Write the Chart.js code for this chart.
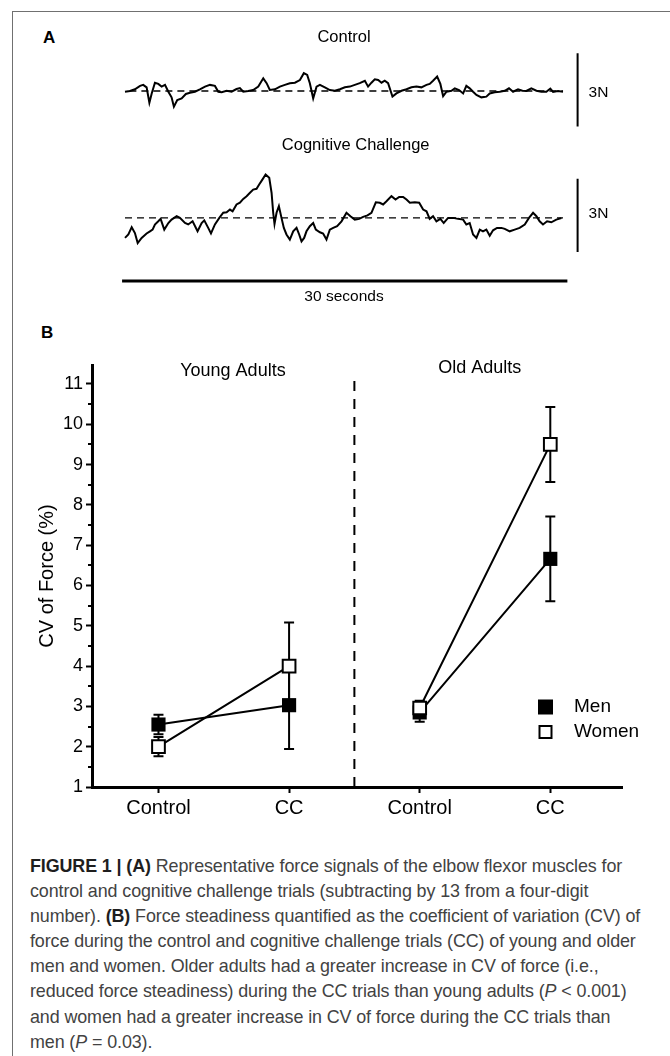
<!DOCTYPE html>
<html>
<head>
<meta charset="utf-8">
<script src="https://cdn.jsdelivr.net/npm/chart.js@4.4.1/dist/chart.umd.min.js"></script>
<style>
  html, body { margin: 0; padding: 0; background: #fff; }
  body { width: 670px; height: 1056px; position: relative; overflow: hidden; font-family: "Liberation Sans", Arial, sans-serif; }
  .frame { position: absolute; left: 12px; top: 11px; right: -2px; bottom: -2px; border-top: 1.5px solid #707070; border-left: 1.5px solid #707070; }
  .letter { position: absolute; font-weight: bold; font-size: 17px; color: #000; line-height: 1; }
  canvas { position: absolute; }
  #caption { position: absolute; left: 30px; top: 854px; font-size: 17.9px; line-height: 25.1px; color: #424242; white-space: nowrap; letter-spacing: -0.1px; }
  #caption b { color: #1e1e1e; }
</style>
</head>
<body>
<div class="frame"></div>
<div class="letter" style="left:43px; top:29px;">A</div>
<div class="letter" style="left:41px; top:324px;">B</div>
<canvas id="forceTraces" width="520" height="300" style="left:100px; top:20px; width:520px; height:300px;"></canvas>
<canvas id="cvChart" width="640" height="500" style="left:20px; top:340px; width:640px; height:500px;"></canvas>
<div id="caption">
  <div><b>FIGURE 1 | (A)</b> Representative force signals of the elbow flexor muscles for</div>
  <div>control and cognitive challenge trials (subtracting by 13 from a four-digit</div>
  <div>number). <b>(B)</b> Force steadiness quantified as the coefficient of variation (CV) of</div>
  <div>force during the control and cognitive challenge trials (CC) of young and older</div>
  <div>men and women. Older adults had a greater increase in CV of force (i.e.,</div>
  <div>reduced force steadiness) during the CC trials than young adults (<i>P</i> &lt; 0.001)</div>
  <div>and women had a greater increase in CV of force during the CC trials than</div>
  <div>men (<i>P</i> = 0.03).</div>
</div>
<script>
// ---- panel A: representative force signals (seconds, N relative to target) ----
const ctrlTime = [0.00,0.34,0.68,1.03,1.25,1.48,1.67,1.83,2.05,2.28,2.51,2.74,2.97,3.19,3.35,3.58,3.88,4.17,4.45,4.79,5.13,5.48,5.82,6.16,6.39,6.62,6.96,7.30,7.64,7.87,8.10,8.44,8.78,9.13,9.47,9.70,9.92,10.27,10.61,10.95,11.29,11.64,11.98,12.25,12.48,12.66,12.89,13.12,13.35,13.69,14.03,14.37,14.72,15.06,15.40,15.74,16.08,16.43,16.65,16.88,17.11,17.34,17.57,17.79,18.02,18.32,18.59,18.94,19.28,19.62,19.96,20.30,20.65,20.87,21.10,21.38,21.60,21.79,22.02,22.36,22.59,22.88,23.16,23.38,23.61,23.84,24.07,24.41,24.75,24.98,25.32,25.67,26.01,26.30,26.58,26.92,27.22,27.49,27.83,28.18,28.52,28.86,29.13,29.32,29.66,30.00];
const ctrlForce = [-0.03,0.00,0.07,0.21,0.25,0.15,-0.48,-0.10,0.34,0.29,0.18,0.25,-0.03,-0.26,-0.64,-0.37,-0.30,-0.12,-0.07,-0.03,0.07,0.18,0.25,0.21,-0.03,-0.05,0.01,-0.03,0.08,0.12,-0.03,0.00,0.04,0.18,0.52,0.32,0.04,0.07,0.18,0.25,0.32,0.34,0.45,0.73,0.66,0.32,-0.30,0.18,0.25,0.15,0.04,0.01,0.07,0.15,0.18,0.25,0.32,0.42,0.18,0.34,0.48,0.45,0.34,0.42,0.32,-0.23,-0.10,0.01,0.07,0.15,0.18,0.15,0.25,0.29,0.42,0.59,0.29,-0.21,-0.03,0.01,0.11,0.04,-0.10,0.21,0.11,-0.03,-0.16,-0.26,-0.23,-0.10,-0.05,-0.03,0.01,0.11,-0.03,0.07,0.01,0.00,0.11,0.01,-0.03,-0.03,0.10,-0.04,0.00,-0.03];
const ccTime = [0.00,0.23,0.46,0.68,0.87,1.14,1.48,1.71,1.89,2.05,2.28,2.44,2.69,2.97,3.19,3.54,3.76,4.11,4.33,4.63,4.97,5.25,5.43,5.70,5.89,6.16,6.46,6.73,6.96,7.19,7.37,7.64,7.87,8.10,8.33,8.56,8.78,9.01,9.19,9.42,9.63,9.88,10.04,10.15,10.24,10.38,10.54,10.72,10.88,11.06,11.29,11.52,11.75,11.93,12.09,12.27,12.43,12.66,12.89,13.07,13.35,13.57,13.80,14.03,14.26,14.53,14.83,15.17,15.44,15.74,16.04,16.31,16.61,16.88,17.18,17.45,17.68,17.91,18.25,18.53,18.78,19.05,19.28,19.51,19.85,20.15,20.42,20.65,20.87,21.10,21.33,21.60,21.83,22.13,22.47,22.81,23.16,23.38,23.61,23.84,24.07,24.30,24.52,24.75,24.98,25.21,25.48,25.78,26.01,26.35,26.69,27.03,27.38,27.67,27.95,28.18,28.40,28.63,28.91,29.20,29.54,29.89];
const ccForce = [-0.82,-0.68,-0.38,-0.62,-1.03,-0.82,-0.64,-0.55,-0.48,-0.27,-0.14,-0.04,-0.48,-0.21,-0.07,0.07,0.00,-0.21,-0.27,-0.14,-0.55,-0.21,-0.10,-0.41,-0.64,-0.27,0.00,0.21,0.23,0.34,0.27,0.55,0.62,0.78,0.89,1.03,1.16,1.19,1.37,1.58,1.78,1.64,1.03,0.21,-0.25,0.21,0.48,0.00,-0.41,-0.68,-0.89,-0.55,-0.41,-0.68,-0.96,-0.82,-0.55,-0.34,-0.21,-0.48,-0.59,-0.64,-0.89,-0.48,-0.41,-0.34,-0.14,0.21,0.07,-0.07,-0.04,0.04,0.10,0.21,0.64,0.62,0.55,0.68,0.89,0.75,0.86,0.86,0.75,0.62,0.64,0.62,0.34,0.27,-0.04,0.07,-0.14,-0.04,-0.21,0.00,0.00,-0.04,-0.07,-0.27,-0.21,-0.68,-0.82,-0.48,-0.55,-0.48,-0.73,-0.51,-0.41,-0.41,-0.45,-0.55,-0.48,-0.41,-0.27,0.00,0.21,0.07,-0.14,-0.27,-0.14,-0.18,-0.07,-0.01];
const traceTitles = ['Control', 'Cognitive Challenge'];
const scaleBarN = 3;
const durationSec = 30;

// ---- panel B: CV of force (%), mean and SE ----
const xLabels = ['Control', 'CC', 'Control', 'CC'];
const groupLabels = ['Young Adults', 'Old Adults'];
const menMean = [2.55, 3.03, 2.85, 6.66];
const menSE = [0.24, 1.09, 0.23, 1.05];
const womenMean = [2.00, 4.00, 2.96, 9.50];
const womenSE = [0.24, 1.08, 0.18, 0.93];
const yTicks = [1, 2, 3, 4, 5, 6, 7, 8, 9, 10, 11];

Chart.defaults.font.family = '"Liberation Sans", Arial, sans-serif';
Chart.defaults.color = '#000';

function pts(xs, ys, off) {
  return xs.map((t, i) => ({ x: t, y: ys[i] + (off || 0) }));
}

// vertical offset of the second trace and the time bar (layout only)
const ccOffset = -5.2;
const barY = -7.79;

const textLabels = {
  id: 'textLabels',
  afterDatasetsDraw(chart, args, opts) {
    const { ctx, scales: { x, y } } = chart;
    ctx.save();
    ctx.fillStyle = '#000';
    ctx.textBaseline = 'middle';
    opts.items.forEach(it => {
      ctx.font = it.font;
      ctx.textAlign = it.align || 'center';
      ctx.fillText(it.text, x.getPixelForValue(it.x), y.getPixelForValue(it.y));
    });
    ctx.restore();
  }
};

const lineStyle = { borderColor: '#000', pointRadius: 0, showLine: true, tension: 0, fill: false };

new Chart(document.getElementById('forceTraces'), {
  type: 'scatter',
  data: {
    datasets: [
      { ...lineStyle, data: pts(ctrlTime, ctrlForce), borderWidth: 2 },
      { ...lineStyle, data: [{ x: 0.3, y: 0 }, { x: durationSec, y: 0 }], borderWidth: 1.3, borderDash: [7, 5] },
      { ...lineStyle, data: pts(ccTime, ccForce, ccOffset), borderWidth: 2 },
      { ...lineStyle, data: [{ x: 0, y: ccOffset }, { x: durationSec, y: ccOffset }], borderWidth: 1.3, borderDash: [7, 5] },
      { ...lineStyle, data: [{ x: 31, y: 1.55 }, { x: 31, y: 1.55 - scaleBarN }], borderWidth: 2 },
      { ...lineStyle, data: [{ x: 31, y: ccOffset + 1.6 }, { x: 31, y: ccOffset + 1.6 - scaleBarN }], borderWidth: 2 },
      { ...lineStyle, data: [{ x: -0.2, y: barY }, { x: durationSec + 0.3, y: barY }], borderWidth: 3 }
    ]
  },
  options: {
    responsive: false,
    animation: false,
    layout: { padding: 0 },
    scales: {
      x: { type: 'linear', display: false, min: -1.712, max: 33.904 },
      y: { type: 'linear', display: false, min: -9.385, max: 2.91 }
    },
    plugins: {
      legend: { display: false },
      tooltip: { enabled: false },
      textLabels: {
        items: [
          { text: traceTitles[0], x: 15.0, y: 2.21, font: '16.5px "Liberation Sans", Arial' },
          { text: traceTitles[1], x: 15.8, y: -2.25, font: '16.5px "Liberation Sans", Arial' },
          { text: scaleBarN + 'N', x: 31.75, y: -0.08, font: '15.5px "Liberation Sans", Arial', align: 'left' },
          { text: scaleBarN + 'N', x: 31.75, y: ccOffset + 0.16, font: '15.5px "Liberation Sans", Arial', align: 'left' },
          { text: durationSec + ' seconds', x: 15.0, y: -8.44, font: '15.5px "Liberation Sans", Arial' }
        ]
      }
    }
  },
  plugins: [textLabels]
});

// ---- panel B ----
const xPos = xLabels.map((_, i) => i);
function withGap(means) {
  return [
    { x: xPos[0], y: means[0] }, { x: xPos[1], y: means[1] },
    { x: 1.5, y: null },
    { x: xPos[2], y: means[2] }, { x: xPos[3], y: means[3] }
  ];
}

const cvExtras = {
  id: 'cvExtras',
  beforeDatasetsDraw(chart) {
    const { ctx, scales: { x, y } } = chart;
    ctx.save();
    ctx.strokeStyle = '#000';
    ctx.lineWidth = 2;
    [[menMean, menSE], [womenMean, womenSE]].forEach(([m, se]) => {
      m.forEach((v, i) => {
        const px = x.getPixelForValue(xPos[i]);
        const top = y.getPixelForValue(v + se[i]);
        const bot = y.getPixelForValue(v - se[i]);
        ctx.beginPath();
        ctx.moveTo(px, top); ctx.lineTo(px, bot);
        ctx.moveTo(px - 5, top); ctx.lineTo(px + 5, top);
        ctx.moveTo(px - 5, bot); ctx.lineTo(px + 5, bot);
        ctx.stroke();
      });
    });
    ctx.restore();
  },
  afterDraw(chart) {
    const { ctx, chartArea, scales: { x, y } } = chart;
    ctx.save();
    // minor ticks on y axis
    ctx.strokeStyle = '#000';
    ctx.lineWidth = 2;
    for (let i = 0; i < yTicks.length - 1; i++) {
      const py = Math.round(y.getPixelForValue((yTicks[i] + yTicks[i + 1]) / 2));
      ctx.beginPath();
      ctx.moveTo(chartArea.left - 4, py); ctx.lineTo(chartArea.left, py);
      ctx.stroke();
    }
    // group titles
    ctx.fillStyle = '#000';
    ctx.font = '18px "Liberation Sans", Arial';
    ctx.textAlign = 'center';
    ctx.textBaseline = 'middle';
    ctx.fillText(groupLabels[0], x.getPixelForValue(0.57), y.getPixelForValue(11.33));
    ctx.fillText(groupLabels[1], x.getPixelForValue(2.46), y.getPixelForValue(11.39));
    // legend
    const sets = chart.data.datasets.filter(d => d.label);
    const order = ['Men', 'Women'];
    order.forEach((lab, k) => {
      const ds = sets.find(d => d.label === lab);
      const cx = chartArea.right - 76.5;
      const cy = chartArea.bottom - 80 + k * 25;
      if (ds.pointBackgroundColor === '#000') {
        ctx.fillStyle = '#000';
        ctx.fillRect(cx - 7.5, cy - 7.5, 15, 15);
      } else {
        ctx.fillStyle = '#fff';
        ctx.fillRect(cx - 7, cy - 7, 14, 14);
        ctx.strokeStyle = '#000';
        ctx.lineWidth = 2;
        ctx.strokeRect(cx - 6, cy - 6, 12, 12);
      }
      ctx.fillStyle = '#000';
      ctx.font = '19px "Liberation Sans", Arial';
      ctx.textAlign = 'left';
      ctx.fillText(lab, chartArea.right - 48, cy);
    });
    ctx.restore();
  }
};

new Chart(document.getElementById('cvChart'), {
  type: 'scatter',
  data: {
    datasets: [
      {
        label: 'Women', data: withGap(womenMean), showLine: true, spanGaps: false,
        borderColor: '#000', borderWidth: 2, tension: 0,
        pointStyle: 'rect', pointRadius: 9, pointHoverRadius: 9,
        pointBackgroundColor: '#fff', pointBorderColor: '#000', pointBorderWidth: 2
      },
      {
        label: 'Men', data: withGap(menMean), showLine: true, spanGaps: false,
        borderColor: '#000', borderWidth: 2, tension: 0,
        pointStyle: 'rect', pointRadius: 10, pointHoverRadius: 10,
        pointBackgroundColor: '#000', pointBorderColor: '#000', pointBorderWidth: 0
      },
      {
        data: [{ x: 1.5, y: 1 }, { x: 1.5, y: 11.15 }], showLine: true,
        borderColor: '#000', borderWidth: 2, borderDash: [10, 8], pointRadius: 0
      }
    ]
  },
  options: {
    responsive: false,
    animation: false,
    layout: { padding: { top: 25, right: 38, left: 0, bottom: 0 } },
    scales: {
      x: {
        type: 'linear', min: -0.509, max: 3.549,
        afterBuildTicks: s => { s.ticks = xPos.map(v => ({ value: v })); },
        afterFit: s => { s.height = 53; },
        ticks: { callback: v => xLabels[v], font: { size: 20 }, padding: 3, maxRotation: 0, autoSkip: false },
        grid: { drawOnChartArea: false, drawTicks: true, tickLength: 6, tickWidth: 2, tickColor: '#000' },
        border: { display: true, width: 3, color: '#000' }
      },
      y: {
        type: 'linear', min: 1, max: 11.47,
        afterBuildTicks: s => { s.ticks = yTicks.map(v => ({ value: v })); },
        afterFit: s => { s.width = 72; },
        ticks: { font: { size: 18 }, padding: 3 },
        grid: { drawOnChartArea: false, drawTicks: true, tickLength: 6, tickWidth: 2, tickColor: '#000' },
        border: { display: true, width: 3, color: '#000' },
        title: { display: true, text: 'CV of Force (%)', font: { size: 20 }, padding: { top: 15, bottom: 0 } }
      }
    },
    plugins: { legend: { display: false }, tooltip: { enabled: false } }
  },
  plugins: [cvExtras]
});
</script>
</body>
</html>
